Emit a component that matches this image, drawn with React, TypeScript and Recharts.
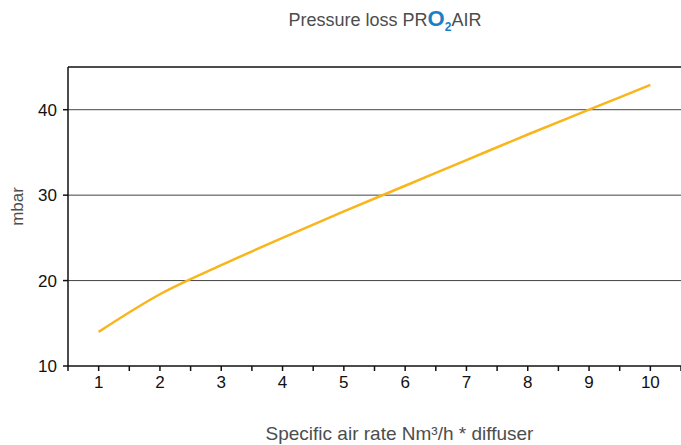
import { LineChart, Line, XAxis, YAxis, CartesianGrid, ReferenceLine } from "recharts"

const airRate = [1, 2, 3, 4, 5, 6, 7, 8, 9, 10]
const pressureLoss = [14, 18.4, 21.8, 25, 28.1, 31.1, 34.1, 37.1, 40, 42.9]
const xTicks = [0.5, 1, 1.5, 2, 2.5, 3, 3.5, 4, 4.5, 5, 5.5, 6, 6.5, 7, 7.5, 8, 8.5, 9, 9.5, 10, 10.5]
const yTicks = [10, 20, 30, 40]

const data = airRate.map((x, i) => ({ x, mbar: pressureLoss[i] }))

const LINE = "#F9B51B"
const TEXT = "#4d4d4d"
const FONT = "'Liberation Sans', Arial, sans-serif"

function YTitle({ viewBox }: any) {
  const cy = viewBox.y + viewBox.height / 2 - 10
  return (
    <text x={19} y={cy} transform={`rotate(-90 19 ${cy})`} textAnchor="middle" dominantBaseline="middle"
      fill={TEXT} fontSize={17} fontFamily={FONT}>
      mbar
    </text>
  )
}

function XTitle({ viewBox }: any) {
  const cx = viewBox.x + viewBox.width / 2 + 25
  return (
    <text x={cx} y={440} textAnchor="middle" fill={TEXT} fontSize={19} fontFamily={FONT}>
      Specific air rate Nm³/h * diffuser
    </text>
  )
}

export default function App() {
  return (
    <div style={{ position: "absolute", left: 0, top: 0, width: 681, height: 445, background: "#fff" }}>
      <div style={{
        position: "absolute", top: 6, left: 0, width: 770, textAlign: "center",
        fontFamily: FONT, fontSize: 18, color: TEXT,
      }}>
        Pressure loss PR<span style={{ color: "#1a7fc4", fontWeight: "bold", fontSize: 22 }}>O</span>
        <sub style={{ color: "#1a7fc4", fontWeight: "bold", fontSize: 12 }}>2</sub>AIR
      </div>
      <LineChart width={681} height={445} data={data} margin={{ top: 67, right: 0, bottom: 49, left: 0 }}>
        <CartesianGrid vertical={false} horizontalValues={[20, 30, 40]} stroke="#444" strokeWidth={1} />
        <ReferenceLine y={45} stroke="#111" strokeWidth={1.5} />
        <XAxis
          dataKey="x"
          type="number"
          domain={[0.5, 10.5]}
          ticks={xTicks}
          interval={0}
          tickFormatter={(v: number) => (Number.isInteger(v) ? String(v) : "")}
          tickSize={5}
          tickMargin={5}
          height={30}
          stroke="#111"
          strokeWidth={1.5}
          tick={{ fill: "#111", fontSize: 17, fontFamily: FONT }}
          label={<XTitle />}
        />
        <YAxis
          type="number"
          domain={[10, 45]}
          ticks={yTicks}
          interval={0}
          width={68}
          tickSize={5}
          tickMargin={6}
          stroke="#111"
          strokeWidth={1.5}
          tick={{ fill: "#111", fontSize: 17, fontFamily: FONT }}
          label={<YTitle />}
        />
        <Line type="monotone" dataKey="mbar" stroke={LINE} strokeWidth={2.5} dot={false} isAnimationActive={false} />
      </LineChart>
    </div>
  )
}
